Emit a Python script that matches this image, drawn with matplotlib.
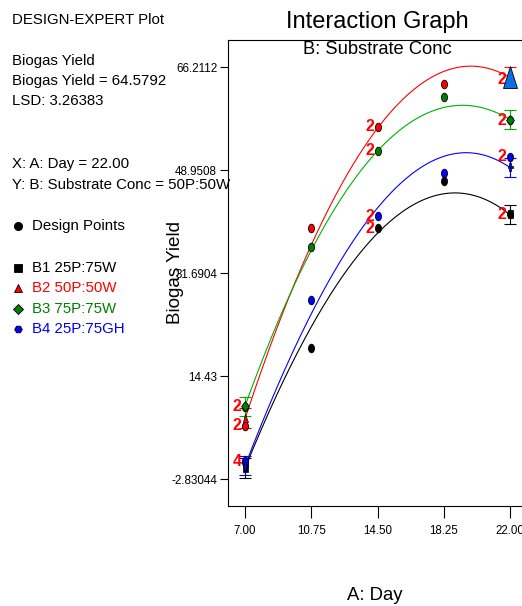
import numpy as np
import matplotlib as mpl
mpl.use('Agg')
import matplotlib.pyplot as plt
from matplotlib.markers import MarkerStyle
from matplotlib.transforms import Affine2D

mpl.rcParams['font.family'] = ['Liberation Sans', 'DejaVu Sans']
mpl.rcParams['lines.linewidth'] = 0.8

W, H = 522, 606

# factor A levels (days) and axis ticks
days = [7.00, 10.75, 14.50, 18.25, 22.00]
day_labels = ['7.00', '10.75', '14.50', '18.25', '22.00']
yield_ticks = [-2.83044, 14.43, 31.6904, 48.9508, 66.2112]
yield_labels = ['-2.83044', '14.43', '31.6904', '48.9508', '66.2112']

lsd = 3.26383
current_day = 22.00
current_yield = 64.5792

# model predictions at each day
pred_b1 = [-1.0, 22.5, 38.6, 44.8, 41.5]
pred_b2 = [7.4, 35.8, 56.8, 64.9, 64.58]
pred_b3 = [9.35, 35.5, 52.1, 59.45, 57.4]
pred_b4 = [-0.6, 24.7, 42.8, 51.1, 49.4]

# design points and number of replicates sitting on each one
obs_b1 = [0.0, 19.07, 39.18, 47.16, 41.5]
obs_b2 = [6.1, 39.18, 56.2, 63.31, 64.2]
obs_b3 = [9.28, 36.1, 52.19, 61.24, 57.3]
obs_b4 = [0.18, 27.16, 41.24, 48.39, 51.2]
reps_b1 = [1, 1, 2, 1, 2]
reps_b2 = [2, 1, 2, 1, 2]
reps_b3 = [2, 1, 2, 1, 2]
reps_b4 = [4, 1, 2, 1, 2]

series_names = ['B1 25P:75W', 'B2 50P:50W', 'B3 75P:75W', 'B4 25P:75GH']
line_colors = ['black', '#ff0000', '#00b000', '#0000ff']
dot_colors = ['black', '#ff0000', '#008000', '#0000ff']
pred_markers = ['s', '^', 'D', 'P']


def ms(marker, sx, sy):
    return MarkerStyle(marker, transform=Affine2D().scale(sx, sy))


fig = plt.figure(figsize=(W / 100, H / 100), dpi=100)
ax = fig.add_axes([228 / W, 100 / H, 299 / W, 466 / H])

preds = [pred_b1, pred_b2, pred_b3, pred_b4]
obss = [obs_b1, obs_b2, obs_b3, obs_b4]
repss = [reps_b1, reps_b2, reps_b3, reps_b4]

xs = np.linspace(days[0], days[-1], 200)
for pred, obs, reps, lc, dc, mk in zip(preds, obss, repss, line_colors,
                                        dot_colors, pred_markers):
    coef = np.polyfit(days, pred, 3)
    ax.plot(xs, np.polyval(coef, xs), color=lc, lw=0.8, zorder=2)
    ends_x = [days[0], days[-1]]
    ends_y = [pred[0], pred[-1]]
    ax.errorbar(ends_x, ends_y, yerr=lsd / 2, fmt='none', ecolor=lc,
                elinewidth=0.8, capsize=4.3, capthick=0.8, zorder=3)
    ax.plot(days, obs, ls='none', marker=ms('o', 0.7, 1.0), ms=6.2,
            mfc=dc, mec='black', mew=0.6, zorder=4)
    for d, o, n in zip(days, obs, reps):
        if n > 1:
            ax.annotate(str(n), (d, o), xytext=(-2.4, 0),
                        textcoords='offset points', ha='right', va='center',
                        color='#ff0000', fontsize=11.5, fontweight='bold',
                        zorder=6)
    ax.plot(ends_x, ends_y, ls='none', marker=ms(mk, 0.75, 1.15), ms=4.8,
            mfc=dc, mec='black', mew=0.5, zorder=5)

# current point highlight
ax.plot([current_day], [current_yield], ls='none', marker=ms('^', 0.62, 1.0),
        ms=16, mfc='#0a6fe6', mec='black', mew=0.6, zorder=7)

ax.set_xlim(7 - 17 / 17.68, 22 + 17 / 17.68)
ax.set_ylim(-7.355, 70.736)
ax.set_xticks(days)
ax.set_xticklabels(day_labels, fontsize=8.3)
ax.set_yticks(yield_ticks)
ax.set_yticklabels(yield_labels, fontsize=8.4)
ax.tick_params(axis='x', direction='out', length=8.6, width=0.8, pad=5)
ax.tick_params(axis='y', direction='out', length=5.8, width=0.8, pad=2)
for s in ax.spines.values():
    s.set_linewidth(0.8)

# overlay panel in pixel coordinates for the surrounding text
pan = fig.add_axes([0, 0, 1, 1])
pan.set_xlim(0, W)
pan.set_ylim(H, 0)
pan.axis('off')

fs = 10.8
pan.text(12, 20, 'DESIGN-EXPERT Plot', fontsize=fs, va='center')
pan.text(12, 61, 'Biogas Yield', fontsize=fs, va='center')
pan.text(12, 81, 'Biogas Yield = %.4f' % current_yield, fontsize=fs, va='center')
pan.text(12, 101, 'LSD: %.5f' % lsd, fontsize=fs, va='center')
pan.text(12, 164, 'X: A: Day = %.2f' % current_day, fontsize=fs, va='center')
pan.text(12, 185, 'Y: B: Substrate Conc = 50P:50W', fontsize=fs, va='center')

pan.plot([18], [226], marker='o', ms=5.5, color='black')
pan.text(32, 226, 'Design Points', fontsize=fs, va='center')

leg_y = [268, 288, 309, 329]
leg_markers = ['s', '^', 'D', 'H']
for yy, name, dc, mk in zip(leg_y, series_names, dot_colors, leg_markers):
    pan.plot([18], [yy], marker=mk, ms=5.5, mfc=dc, mec='black', mew=0.6)
    pan.text(32, yy, name, fontsize=fs, va='center', color=dc)

pan.text(377, 22, 'Interaction Graph', fontsize=17, ha='center', va='center')
pan.text(377, 50, 'B: Substrate Conc', fontsize=13.2, ha='center', va='center')
pan.text(176, 272, 'Biogas Yield', fontsize=13.6, rotation=90,
         ha='center', va='center')
pan.text(375, 595, 'A: Day', fontsize=13.3, ha='center', va='center')

fig.savefig('out.png', dpi=100)
